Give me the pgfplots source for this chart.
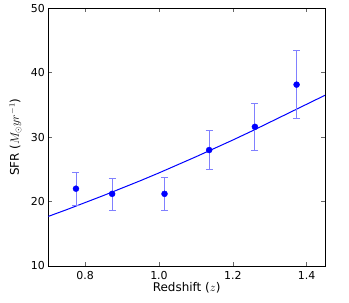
\documentclass[border=0pt]{standalone}
\usepackage{fontspec}
\setmainfont{DejaVu Sans}
\usepackage{pgfplots}
\pgfplotsset{compat=1.18}
\usepackage{pgfplotstable}
\definecolor{mplblue}{RGB}{0,0,255}
\definecolor{errblue}{RGB}{128,128,255}
\pgfplotstableread{
x y ep em
0.775 22.0 2.5 2.6
0.873 21.2 2.45 2.5
1.015 21.2 2.55 2.5
1.136 28.0 3.0 3.0
1.260 31.6 3.6 3.6
1.373 38.15 5.3 5.25
}\pts
\pgfplotstableread{
x y
0.70 17.7
0.75 18.75
0.80 19.85
0.85 20.95
0.90 22.1
0.95 23.25
1.00 24.45
1.05 25.7
1.10 26.95
1.15 28.25
1.20 29.55
1.25 30.9
1.30 32.3
1.35 33.7
1.40 35.1
1.45 36.5
}\fit
\begin{document}
\begin{tikzpicture}[x=1bp,y=1bp]
\path[use as bounding box] (-48.3bp,-37bp) rectangle (300.7bp,266bp);
\begin{axis}[
  at={(0,0)}, anchor=south west,
  scale only axis,
  width=276.7bp, height=257.7bp,
  xmin=0.7, xmax=1.45, ymin=10, ymax=50,
  xtick={0.8,1.0,1.2,1.4},
  xticklabels={0.8,1.0,1.2,1.4},
  ytick={10,20,30,40,50},
  tick align=inside,
  major tick length=4bp,
  tick style={black!60, line width=0.5bp},
  axis line style={black, line width=0.8bp},
  /pgf/number format/assume math mode=true,
  tick label style={font=\fontsize{11}{13}\selectfont},
  label style={font=\fontsize{12}{14}\selectfont},
  xticklabel style={yshift=-1.5bp},
  xlabel={Redshift ($z$)},
  ylabel={SFR ($M_\odot yr^{-1}$)},
  xlabel style={yshift=4bp},
  ylabel style={yshift=2.5bp},
  clip=true,
]
\addplot[mplblue, line width=1bp, no marks] table[x=x,y=y]{\fit};
\addplot[only marks, mark=*, mark size=3bp, mark options={mplblue, draw=mplblue, fill=mplblue},
  error bars/.cd, y dir=both, y explicit,
  error bar style={errblue, line width=0.9bp},
  error mark options={errblue, line width=0.9bp, mark size=3.5bp, rotate=90}]
  table[x=x, y=y, y error plus=ep, y error minus=em]{\pts};
\end{axis}
\end{tikzpicture}
\end{document}
